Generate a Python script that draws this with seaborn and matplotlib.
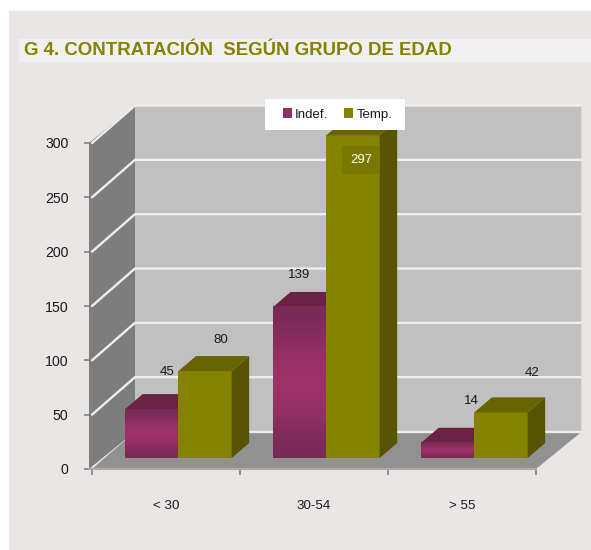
import numpy as np
import pandas as pd
import matplotlib
matplotlib.use("Agg")
import matplotlib.pyplot as plt
from matplotlib.patches import Polygon, Rectangle
from matplotlib.transforms import Affine2D, IdentityTransform
import seaborn as sns

# data
grupos = ["< 30", "30-54", "> 55"]
indef = [45, 139, 14]
temp = [80, 297, 42]
y_ticks = [0, 50, 100, 150, 200, 250, 300]
titulo = "G 4. CONTRATACIÓN  SEGÚN GRUPO DE EDAD"

df = pd.DataFrame({
    "grupo": grupos * 2,
    "valor": indef + temp,
    "tipo": ["Indef."] * 3 + ["Temp."] * 3,
})

sns.set_style("white")
plt.rcParams["font.family"] = ["Liberation Sans", "DejaVu Sans"]

W, H = 591, 550
MAGENTA = "#8f2f62"
OLIVE = "#858200"
TXT = "#1a1a1a"

fig = plt.figure(figsize=(W / 100, H / 100), dpi=100, facecolor="white")

# background panel and title strip
fig.patches.append(Rectangle((9 / W, 0), (W - 9) / W, 1 - 11 / H, transform=fig.transFigure, color="#ebe6e6", zorder=-5))
fig.patches.append(Rectangle((19 / W, 1 - 61 / H), (W - 19) / W, 22 / H, transform=fig.transFigure, color="#f0f0f0", zorder=-4))
fig.text(24 / W, 1 - 50.5 / H, titulo, color="#858200", fontsize=13.4, fontweight="bold", va="center", ha="left")

# front plane of the chart
ax = fig.add_axes([92 / W, 1 - 469 / H, 444 / W, 326 / H], facecolor="none")
sns.barplot(data=df, x="grupo", y="valor", hue="tipo", palette=[MAGENTA, OLIVE],
            width=0.72, gap=0, saturation=1, legend=False, ax=ax, zorder=5)
ax.set_xlim(-0.5, 2.5)
ax.set_ylim(0, 300)
ax.set_xlabel("")
ax.set_ylabel("")
ax.autoscale(False)
for s in ax.spines.values():
    s.set_visible(False)

# depth of the box in pixels
DX, DY = 43, 37.5


def proj(x, y, d=0.0):
    px, py = ax.transData.transform((x, y))
    return (px + DX * d, py + DY * d)


def poly(pts, color, z=1, **kw):
    ax.add_patch(Polygon(pts, closed=True, facecolor=color, edgecolor="none", transform=IdentityTransform(),
                         clip_on=False, zorder=z, **kw))


def right_back(y):
    # the back wall runs a little further right than the plain depth offset
    px, py = proj(x1, y, 1)
    return (px + 3, py)


# walls and floor
x0, x1 = -0.5, 2.5
poly([proj(x0, 0, 1), right_back(0), right_back(300), proj(x0, 300, 1)], "#c0c0c0")
wall_l = proj(x0, 0)[0] - 3
poly([(wall_l, proj(x0, 0)[1]), proj(x0, 0, 1), proj(x0, 300, 1), (wall_l, proj(x0, 300)[1])], "#7d7d7d")
poly([proj(x0, 0), proj(x1, 0), right_back(0), proj(x0, 0, 1)], "#919191", z=1.5)

# gridlines run along the wall and the back
for v in y_ticks:
    pts = [proj(x0, v), proj(x0, v, 1), right_back(v)]
    if v == 0:
        pts = pts[1:]
    ax.plot(*zip(*pts), color="#eeeeee", lw=1.7, transform=IdentityTransform(), clip_on=False, zorder=2,
            solid_joinstyle="miter")
ax.plot(*zip(right_back(0), right_back(300)), color="#e4e4e4", lw=1.2,
        transform=IdentityTransform(), clip_on=False, zorder=2)
ax.plot(*zip((wall_l, proj(x0, 0)[1]), proj(x1, 0)), color="#ababab", lw=1.5,
        transform=IdentityTransform(), clip_on=False, zorder=2)

# extrude the seaborn bars, pushed back into the box
SHIFT = (12.4, 11)
BAR_DX, BAR_DY = 17.5, 15
bar_tf = Affine2D().translate(*SHIFT)
shades = {0: ("#6a2245", "#5e1f3e"), 1: ("#666300", "#565400")}
grad_magenta = np.array([0.0, 0.35, 0.8, 1.0, 1.0, 0.8, 0.35, 0.0]).reshape(-1, 1)
grad_cmap = matplotlib.colors.LinearSegmentedColormap.from_list("m", ["#7a2a56", "#9b3168"])

for i, cont in enumerate(ax.containers):
    z = 5 + i
    for bar in cont:
        xb, w, h = bar.get_x(), bar.get_width(), bar.get_height()
        bar.set_zorder(z)
        bar.set_linewidth(0)
        bar.set_transform(ax.transData + bar_tf)
        bar.set_clip_on(False)
        a = proj(xb, 0)
        b = proj(xb + w, 0)
        c = proj(xb + w, h)
        d = proj(xb, h)
        a, b, c, d = [(p[0] + SHIFT[0], p[1] + SHIFT[1]) for p in (a, b, c, d)]
        top, side = shades[i]
        poly([d, c, (c[0] + BAR_DX, c[1] + BAR_DY), (d[0] + BAR_DX, d[1] + BAR_DY)], top, z=z)
        poly([b, (b[0] + BAR_DX, b[1] + BAR_DY), (c[0] + BAR_DX, c[1] + BAR_DY), c], side, z=z)
        if i == 0:
            # magenta front face is shaded top to bottom
            ax.imshow(grad_magenta, cmap=grad_cmap, vmin=0, vmax=1, aspect="auto", interpolation="bilinear",
                      extent=(a[0], b[0], a[1], d[1]), transform=IdentityTransform(), clip_on=False, zorder=z + 0.1)
ax.set_xlim(-0.5, 2.5)
ax.set_ylim(0, 300)

# ticks
ax.set_yticks(y_ticks)
ax.set_xticks([0, 1, 2], grupos)
ax.set_xticks([-0.5, 0.5, 1.5, 2.5], minor=True)
ax.tick_params(axis="y", left=True, length=6, width=1.2, color="#808080", pad=11, labelsize=10.2, labelcolor=TXT)
ax.tick_params(axis="x", which="major", bottom=False, pad=18.5, labelsize=9.6, labelcolor=TXT)
ax.tick_params(axis="x", which="minor", bottom=True, length=4, width=1.2, color="#808080")

# value labels, placed by hand like the original chart
offsets = {
    "Indef.": [(15.5, 37.5), (-1, 31.5), (24, 41.5)],
    "Temp.": [(15.5, 31), (8, -25), (31, 39.5)],
}
for i, (cont, name) in enumerate(zip(ax.containers, ["Indef.", "Temp."])):
    for j, bar in enumerate(cont):
        cx = bar.get_x() + bar.get_width() / 2
        off = offsets[name][j]
        px, py = proj(cx, bar.get_height())
        kw = {"color": TXT}
        if bar.get_height() == max(temp):
            kw = {"color": "white", "bbox": dict(boxstyle="square,pad=0.62", fc="#7a7700", ec="none")}
        ax.annotate(str(int(bar.get_height())), xy=(px + SHIFT[0] + off[0], py + SHIFT[1] + off[1]),
                    xycoords="figure pixels", ha="center", va="center", fontsize=9.5, annotation_clip=False,
                    zorder=12, **kw)

# legend, white box drawn apart so the entries can sit off centre
ax.add_patch(Rectangle((265, H - 130), 140, 31, transform=IdentityTransform(), facecolor="white", edgecolor="none",
                       clip_on=False, zorder=19))
leg = ax.legend([c[0] for c in ax.containers], ["Indef.", "Temp."], loc="center",
                bbox_to_anchor=(337.5 / W, 1 - 114.5 / H), bbox_transform=fig.transFigure, ncols=2,
                frameon=False, fontsize=9.5, handlelength=0.7, handleheight=0.7, handletextpad=0.25,
                columnspacing=1.2, borderpad=0, labelcolor=TXT)
leg.set_zorder(20)

fig.savefig("out.png", dpi=100, facecolor=fig.get_facecolor())
